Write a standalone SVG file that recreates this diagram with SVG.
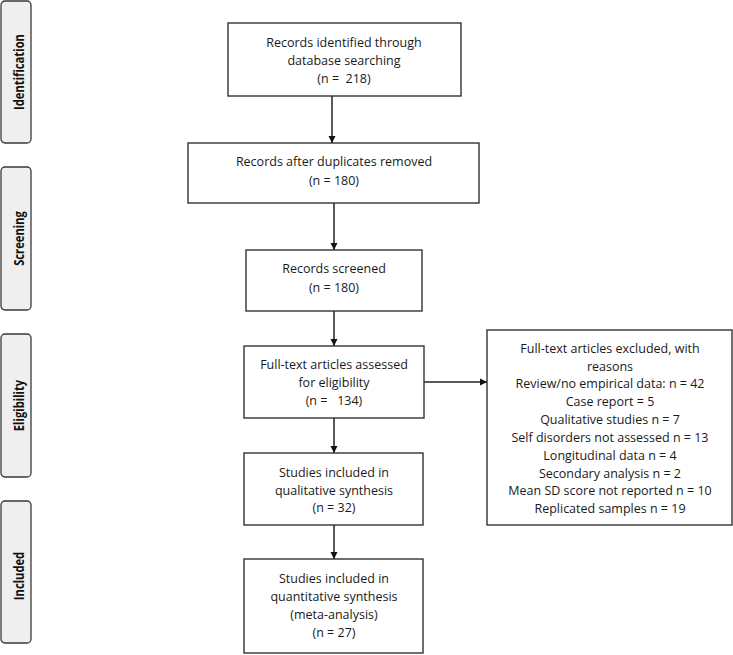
<svg xmlns="http://www.w3.org/2000/svg" width="733" height="655" viewBox="0 0 733 655">
<defs>
<style>
.box{fill:#ffffff;stroke:#333333;stroke-width:1.4}
.tab{fill:#efefef;stroke:#3a3a3a;stroke-width:1.3}
.t{font-family:"Open Sans","Liberation Sans",sans-serif;font-size:12.5px;fill:#1a1a1a;text-anchor:middle}
.lab{font-family:"Open Sans","Liberation Sans",sans-serif;font-size:13.5px;font-weight:bold;fill:#111111;text-anchor:middle}
.edge{stroke:#222222;stroke-width:1.5;fill:none;marker-end:url(#arr)}
</style>
<marker id="arr" markerWidth="8" markerHeight="8" refX="7" refY="4" orient="auto" markerUnits="userSpaceOnUse">
<path d="M0,0.5 L7,4 L0,7.5 Z" fill="#111111"/>
</marker>
</defs>
<rect width="733" height="655" fill="#ffffff"/>

<g id="tab-identification">
<rect class="tab" x="1" y="1" width="30" height="142" rx="4"/>
<text class="lab" transform="translate(23.5,72) rotate(-90) scale(0.83,1)">Identification</text>
</g>
<g id="tab-screening">
<rect class="tab" x="1" y="167" width="30" height="143" rx="4"/>
<text class="lab" transform="translate(23.5,238.5) rotate(-90) scale(0.83,1)">Screening</text>
</g>
<g id="tab-eligibility">
<rect class="tab" x="1" y="334" width="30" height="143" rx="4"/>
<text class="lab" transform="translate(23.5,405.5) rotate(-90) scale(0.83,1)">Eligibility</text>
</g>
<g id="tab-included">
<rect class="tab" x="1" y="501" width="30" height="142" rx="4"/>
<text class="lab" transform="translate(23.5,576) rotate(-90) scale(0.83,1)">Included</text>
</g>

<g id="connectors">
<line class="edge" x1="332" y1="96" x2="332" y2="143"/>
<line class="edge" x1="334" y1="203" x2="334" y2="250"/>
<line class="edge" x1="334" y1="311" x2="334" y2="346"/>
<line class="edge" x1="424" y1="382" x2="487" y2="382"/>
<line class="edge" x1="334" y1="418" x2="334" y2="453"/>
<line class="edge" x1="334" y1="525" x2="334" y2="559"/>
</g>

<g id="identified">
<rect class="box" x="228" y="23" width="233" height="73"/>
<text class="t" x="344" y="47">Records identified through</text>
<text class="t" x="344" y="65">database searching</text>
<text class="t" x="344" y="83" xml:space="preserve">(n =  218)</text>
</g>
<g id="duplicates">
<rect class="box" x="188" y="143" width="291" height="60"/>
<text class="t" x="334" y="166">Records after duplicates removed</text>
<text class="t" x="334" y="185">(n = 180)</text>
</g>
<g id="screened">
<rect class="box" x="246" y="250" width="176" height="61"/>
<text class="t" x="334" y="273">Records screened</text>
<text class="t" x="334" y="292">(n = 180)</text>
</g>
<g id="fulltext">
<rect class="box" x="244" y="346" width="180" height="72"/>
<text class="t" x="334" y="369">Full-text articles assessed</text>
<text class="t" x="334" y="387">for eligibility</text>
<text class="t" x="334" y="405" xml:space="preserve">(n =   134)</text>
</g>
<g id="excluded">
<rect class="box" x="487" y="330" width="245" height="195"/>
<text class="t" x="610" y="353">Full-text articles excluded, with</text>
<text class="t" x="610" y="371">reasons</text>
<text class="t" x="610" y="388">Review/no empirical data: n = 42</text>
<text class="t" x="610" y="406">Case report = 5</text>
<text class="t" x="610" y="424">Qualitative studies n = 7</text>
<text class="t" x="610" y="442">Self disorders not assessed n = 13</text>
<text class="t" x="610" y="460">Longitudinal data n = 4</text>
<text class="t" x="610" y="478">Secondary analysis n = 2</text>
<text class="t" x="610" y="495">Mean SD score not reported n = 10</text>
<text class="t" x="610" y="513">Replicated samples n = 19</text>
</g>
<g id="qualitative">
<rect class="box" x="244" y="453" width="179" height="72"/>
<text class="t" x="334" y="477">Studies included in</text>
<text class="t" x="334" y="494.5">qualitative synthesis</text>
<text class="t" x="334" y="512">(n = 32)</text>
</g>
<g id="quantitative">
<rect class="box" x="244" y="559" width="179" height="94"/>
<text class="t" x="334" y="583">Studies included in</text>
<text class="t" x="334" y="601">quantitative synthesis</text>
<text class="t" x="334" y="619">(meta-analysis)</text>
<text class="t" x="334" y="637">(n = 27)</text>
</g>
</svg>
